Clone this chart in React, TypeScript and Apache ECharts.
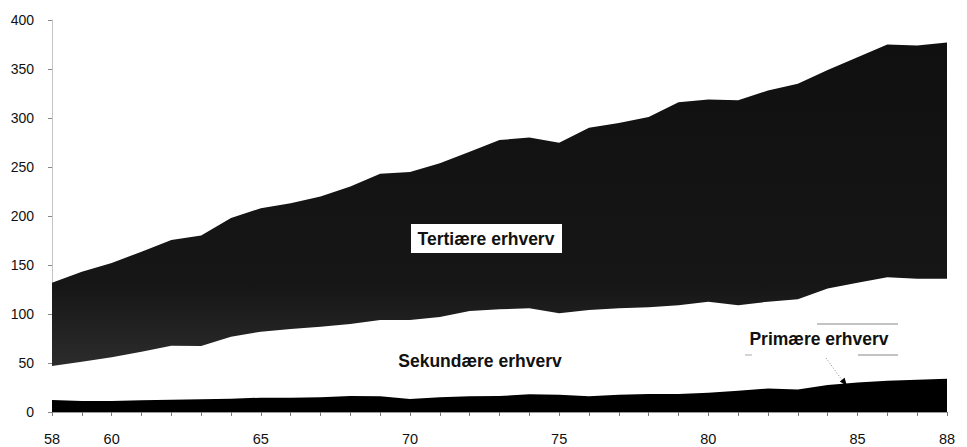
import React, { useEffect, useRef } from "react";
import * as echarts from "echarts";

const years = ["58","59","60","61","62","63","64","65","66","67","68","69","70","71","72","73","74","75","76","77","78","79","80","81","82","83","84","85","86","87","88"];
const labeledYears = ["58", "60", "65", "70", "75", "80", "85", "88"];

const primaere = [12.2, 11.2, 11.2, 12, 12.5, 13, 13.6, 14.6, 14.6, 15, 16.3, 16, 13.3, 15, 16, 16.3, 18, 17.5, 16, 17.5, 18.4, 18.4, 19.7, 21.8, 24, 23, 27.5, 30, 32, 33, 34];
const sekundaere = [34.8, 40.2, 44.6, 49.5, 55.2, 54.3, 63.3, 67.4, 70.1, 72, 73.5, 77.9, 80.7, 82, 87, 88.5, 87.8, 83.2, 88, 88.3, 88.4, 90.6, 92.9, 87.2, 88.6, 92, 98.5, 102, 105.4, 103, 102];
const tertiaere = [85, 91.6, 96.2, 102.1, 107.8, 112.7, 121.1, 126, 128.3, 133, 140.2, 149.1, 151, 156.7, 162.6, 172.7, 174.2, 174.1, 186, 189.2, 194.2, 207, 206.4, 209, 215.4, 220, 223, 230, 237.6, 238, 241];

const seriesNames = ["Primære erhverv", "Sekundære erhverv", "Tertiære erhverv"];

export default function App() {
  const ref = useRef<HTMLDivElement>(null);
  useEffect(() => {
    if (!ref.current) return;
    const chart = echarts.init(ref.current, null, { renderer: "svg" });
    const font = "'Liberation Sans', Arial, sans-serif";
    chart.setOption({
      animation: false,
      backgroundColor: "#ffffff",
      grid: { left: 52, right: 20, top: 20, bottom: 35 },
      xAxis: {
        type: "category",
        data: years,
        boundaryGap: false,
        axisLine: { show: true, lineStyle: { color: "#9a9a9a", width: 1 } },
        axisTick: {
          show: true,
          interval: 0,
          length: 4,
          lineStyle: { color: "#777" },
        },
        axisLabel: {
          interval: (_i: number, v: string) => labeledYears.includes(v),
          color: "#111",
          fontFamily: font,
          fontSize: 14.5,
          margin: 19,
        },
        splitLine: { show: false },
      },
      yAxis: {
        type: "value",
        min: 0,
        max: 400,
        interval: 50,
        axisLine: { show: true, lineStyle: { color: "#c4c4c4", width: 1 } },
        axisTick: { show: true, length: 4, lineStyle: { color: "#888" } },
        axisLabel: {
          color: "#111",
          fontFamily: font,
          fontSize: 14,
          margin: 18,
        },
        splitLine: { show: false },
      },
      series: [
        {
          name: seriesNames[0],
          type: "line",
          stack: "total",
          data: primaere,
          symbol: "none",
          lineStyle: { width: 0 },
          areaStyle: { color: "#000000", opacity: 1 },
          z: 3,
        },
        {
          name: seriesNames[1],
          type: "line",
          stack: "total",
          data: sekundaere,
          symbol: "none",
          lineStyle: { width: 0 },
          areaStyle: { color: "#ffffff", opacity: 1 },
          z: 2,
        },
        {
          name: seriesNames[2],
          type: "line",
          stack: "total",
          data: tertiaere,
          symbol: "none",
          lineStyle: { width: 0 },
          areaStyle: {
            opacity: 1,
            color: new echarts.graphic.LinearGradient(0, 0, 0, 1, [
              { offset: 0, color: "#101010" },
              { offset: 0.75, color: "#161616" },
              { offset: 1, color: "#2c2c2c" },
            ]),
          },
          z: 2,
        },
      ],
      graphic: [
        {
          type: "rect",
          shape: { x: 411, y: 224, width: 151, height: 29 },
          style: { fill: "#ffffff" },
          z: 10,
        },
        {
          type: "text",
          x: 486,
          y: 239,
          style: {
            text: "Tertiære erhverv",
            fill: "#111",
            font: `bold 17.5px ${font}`,
            align: "center",
            verticalAlign: "middle",
          },
          z: 11,
        },
        {
          type: "text",
          x: 480,
          y: 361,
          style: {
            text: "Sekundære erhverv",
            fill: "#111",
            font: `bold 17.5px ${font}`,
            align: "center",
            verticalAlign: "middle",
          },
          z: 11,
        },
        {
          type: "text",
          x: 819,
          y: 339,
          style: {
            text: "Primære erhverv",
            fill: "#111",
            font: `bold 17.5px ${font}`,
            align: "center",
            verticalAlign: "middle",
          },
          z: 11,
        },
        {
          type: "line",
          shape: { x1: 817, y1: 324, x2: 898, y2: 324 },
          style: { stroke: "#888", lineWidth: 1 },
          z: 11,
        },
        {
          type: "line",
          shape: { x1: 858, y1: 355, x2: 898, y2: 355 },
          style: { stroke: "#888", lineWidth: 1 },
          z: 11,
        },
        {
          type: "line",
          shape: { x1: 745, y1: 355, x2: 752, y2: 355 },
          style: { stroke: "#aaa", lineWidth: 1 },
          z: 11,
        },
        {
          type: "line",
          shape: { x1: 826, y1: 358, x2: 842, y2: 380 },
          style: { stroke: "#888", lineWidth: 1, lineDash: [1, 2] },
          z: 11,
        },
        {
          type: "polygon",
          shape: { points: [[847, 386], [839.8, 381.4], [844.6, 377.8]] },
          style: { fill: "#000" },
          z: 11,
        },
      ],
    });
    return () => chart.dispose();
  }, []);
  return (
    <div
      ref={ref}
      style={{ position: "fixed", left: 0, top: 0, width: 967, height: 447 }}
    />
  );
}
